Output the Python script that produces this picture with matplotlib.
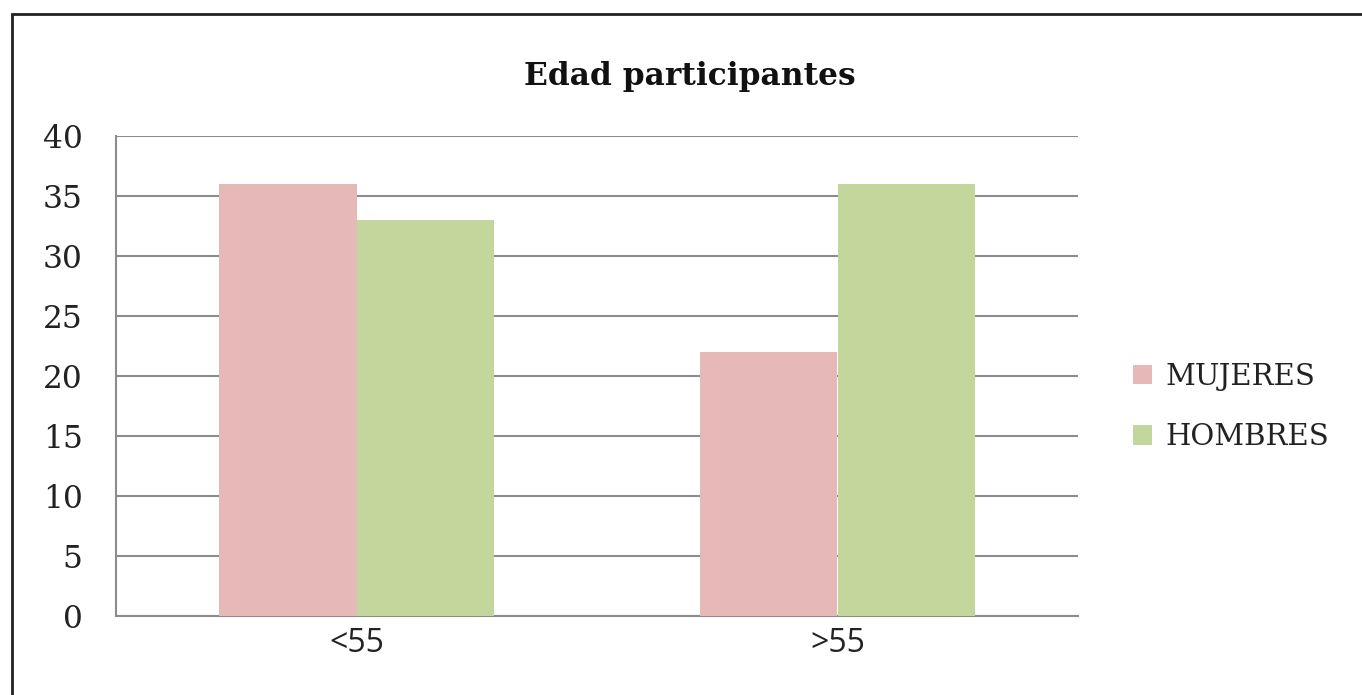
import matplotlib
matplotlib.use("Agg")
import matplotlib.pyplot as plt
from matplotlib.patches import Rectangle
import numpy as np

categories = ["<55", ">55"]
series_names = ["MUJERES", "HOMBRES"]
mujeres = [36, 22]
hombres = [33, 36]
y_ticks = [0, 5, 10, 15, 20, 25, 30, 35, 40]
title = "Edad participantes"

colors = ["#E6B9B8", "#C3D69B"]
W, H = 1362, 695
fig = plt.figure(figsize=(W / 100, H / 100), dpi=100)
fig.patch.set_facecolor("white")

# frame border (extends past right and bottom edges)
fig.add_artist(Rectangle((12 / W, -0.1), 1.2, (1 - 14 / H) + 0.1, transform=fig.transFigure,
                         fill=False, edgecolor="#222222", linewidth=2.0))

ax = fig.add_axes([116 / W, 1 - 616 / H, (1078 - 116) / W, (616 - 136) / H])
x = np.arange(len(categories))
bw = 0.285
ax.bar(x - bw / 2, mujeres, width=bw, color=colors[0], label=series_names[0], zorder=3)
ax.bar(x + bw / 2, hombres, width=bw, color=colors[1], label=series_names[1], zorder=3)

ax.set_xlim(-0.5, 1.5)
ax.set_ylim(0, 40)
ax.set_yticks(y_ticks)
ax.set_xticks(x)
ax.set_xticklabels(categories, fontfamily="Open Sans", fontsize=23, color="#222222")
ax.set_yticklabels([str(t) for t in y_ticks], fontfamily="DejaVu Serif", fontsize=22.5, color="#222222")
ax.tick_params(axis="both", length=0)
ax.tick_params(axis="y", pad=24)
ax.tick_params(axis="x", pad=8)
ax.yaxis.grid(True, color="#8c8c8c", linewidth=1.5, zorder=0)
ax.set_axisbelow(True)
for s in ["top", "right"]:
    ax.spines[s].set_visible(False)
for s in ["left", "bottom"]:
    ax.spines[s].set_color("#8c8c8c")
    ax.spines[s].set_linewidth(1.5)

fig.text(690 / W, 1 - 76 / H, title, ha="center", va="center", fontfamily="DejaVu Serif",
         fontweight="bold", fontsize=22.5, color="#111111")

leg = ax.legend(loc="center left", bbox_to_anchor=((1133 - 116) / 962, (616 - 407) / 480),
                frameon=False, borderpad=0, borderaxespad=0,
                prop={"family": "DejaVu Serif", "size": 21}, handlelength=0.65, handleheight=0.65,
                handletextpad=0.45, labelspacing=1.1)
for t in leg.get_texts():
    t.set_color("#222222")

fig.savefig("out.png", dpi=100)
